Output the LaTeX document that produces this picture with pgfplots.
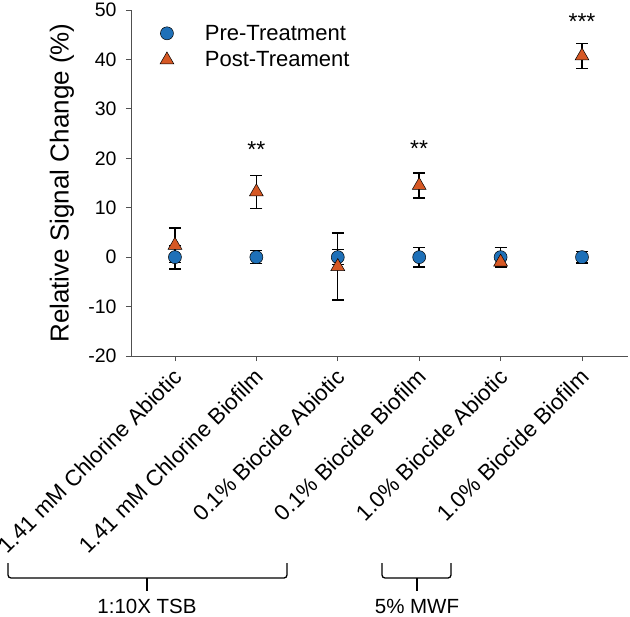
\documentclass[border=0pt]{standalone}
\usepackage{fontspec}
\setmainfont{Liberation Sans}
\usepackage{pgfplots}
\pgfplotsset{compat=1.18}
\usepackage{pgfplotstable}

\definecolor{preblue}{RGB}{30,112,184}
\definecolor{postorange}{RGB}{214,88,36}
\definecolor{axisgray}{RGB}{80,80,80}

% relative signal change, mean and error
\pgfplotstableread{
x pre preerr post posterr
1 0 2.4 2.4 3.5
2 0 1.3 13.2 3.3
3 0 1.5 -1.9 6.8
4 0 2.0 14.5 2.5
5 0 2.0 -1.0 0.6
6 0 1.2 40.7 2.5
}\signal

\begin{document}
\begin{tikzpicture}
\useasboundingbox (-131bp,-261bp) rectangle (499bp,356bp);
\begin{axis}[
    scale only axis,
    width=497bp, height=346bp,
    xmin=0.46, xmax=6.565,
    ymin=-20, ymax=50,
    axis x line*=bottom, axis y line*=left,
    axis line style={axisgray, line width=0.8bp},
    tick style={axisgray, line width=0.8bp},
    tick align=outside,
    major tick length=5bp,
    xtick={1,2,3,4,5,6},
    xticklabels={1.41 mM Chlorine Abiotic, 1.41 mM Chlorine Biofilm,
      0.1\% Biocide Abiotic, 0.1\% Biocide Biofilm,
      1.0\% Biocide Abiotic, 1.0\% Biocide Biofilm},
    xticklabel style={font=\fontsize{22.3bp}{26bp}\selectfont, inner sep=0pt,
      anchor=east, xshift=3bp, yshift=-12bp, rotate=45},
    ytick={-20,-10,0,10,20,30,40,50},
    yticklabel style={font=\fontsize{19.5bp}{23bp}\selectfont, xshift=-6bp},
    /pgf/number format/assume math mode=true,
    ylabel={Relative Signal Change (\%)},
    ylabel style={font=\fontsize{26bp}{30bp}\selectfont,
      at={(axis description cs:-0.139,0.5)}, anchor=center},
    clip=false,
    legend style={draw=none, fill=none,
      at={(axis description cs:0.052,0.963)}, anchor=north west,
      font=\fontsize{22bp}{26bp}\selectfont,
      nodes={inner sep=0pt}, row sep=10bp},
    legend cell align=left,
    /tikz/every odd column/.append style={column sep=31bp},
    legend image code/.code={\draw[#1] plot coordinates {(0bp,0bp)};},
    error bars/error bar style={draw=black, line width=1.4bp},
    error bars/error mark options={draw=black, line width=1.4bp, mark size=6bp, rotate=90},
]

% error bars first, then markers on top
\addplot[only marks, mark=none, forget plot,
  error bars/.cd, y dir=both, y explicit]
  table[x=x, y=pre, y error=preerr] {\signal};
\addplot[only marks, mark=none, forget plot,
  error bars/.cd, y dir=both, y explicit]
  table[x=x, y=post, y error=posterr] {\signal};

\addplot[only marks, mark=*, mark size=6.5bp,
  mark options={fill=preblue, draw=black, line width=0.5bp}]
  table[x=x, y=pre] {\signal};
\addlegendentry{Pre-Treatment}
\addplot[only marks, mark=triangle*, mark size=8bp,
  mark options={fill=postorange, draw=black, line width=0.5bp}]
  table[x=x, y=post] {\signal};
\addlegendentry{Post-Treament}

% significance marks
\node[anchor=base, font=\fontsize{23bp}{26bp}\selectfont] at (axis cs:2,20.2) {**};
\node[anchor=base, font=\fontsize{23bp}{26bp}\selectfont] at (axis cs:4,20.4) {**};
\node[anchor=base, font=\fontsize{23bp}{26bp}\selectfont] at (axis cs:6,46.0) {***};
\end{axis}

% group brackets below the category labels
\draw[line width=1.3bp, rounded corners=3bp]
  (-123bp,-207bp) -- (-123bp,-222bp) -- (156bp,-222bp) -- (156bp,-207bp);
\draw[line width=1.3bp] (16bp,-222bp) -- (16bp,-235bp);
\node[anchor=base, inner sep=0pt, font=\fontsize{20.5bp}{24bp}\selectfont] at (16bp,-257bp) {1:10X TSB};
\draw[line width=1.3bp, rounded corners=3bp]
  (251bp,-207bp) -- (251bp,-222bp) -- (320bp,-222bp) -- (320bp,-207bp);
\draw[line width=1.3bp] (286bp,-222bp) -- (286bp,-235bp);
\node[anchor=base, inner sep=0pt, font=\fontsize{20.5bp}{24bp}\selectfont] at (286bp,-257bp) {5\% MWF};
\end{tikzpicture}
\end{document}
